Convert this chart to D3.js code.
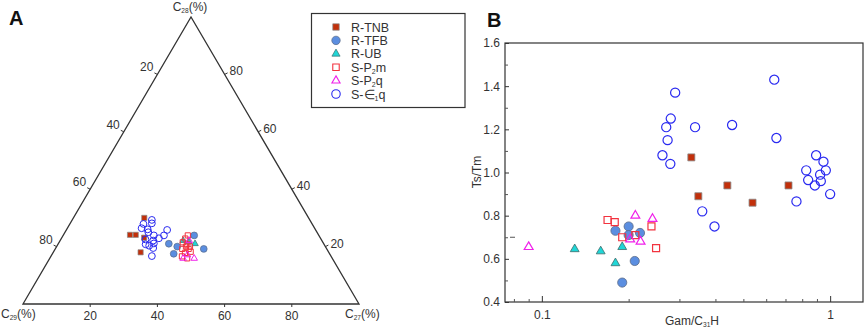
<!DOCTYPE html>
<html>
<head>
<meta charset="utf-8">
<script src="https://cdn.jsdelivr.net/npm/d3@7"></script>
<style>
  body { margin: 0; background: #fff; }
  svg { display: block; font-family: "Liberation Sans", Arial, sans-serif; }
</style>
</head>
<body>
<div id="chart"></div>
<script>
// ---- panel A : ternary data, [C27, C28, C29] (%)
const tnbA = [[21.1, 30.0, 48.9], [19.8, 24.1, 56.1], [21.5, 24.1, 54.4], [24.5, 23.1, 52.4], [26.0, 18.0, 56.0]];
const tfbA = [[32.9, 21.0, 46.1], [35.9, 20.0, 44.1], [36.1, 17.5, 46.4], [39.0, 23.9, 37.1], [44.2, 19.2, 36.6]];
const ubA = [[36.6, 22.1, 41.3], [40.7, 21.0, 38.3], [38.5, 21.7, 39.8]];
const p2mA = [[37.1, 23.9, 39.0], [36.9, 22.8, 40.3], [36.8, 21.5, 41.7], [38.5, 20.8, 40.7], [37.8, 19.2, 43.0],
  [39.7, 19.2, 41.1], [40.8, 18.2, 41.0], [39.3, 17.8, 42.9], [39.0, 16.6, 44.4], [40.9, 15.9, 43.2],
  [39.7, 20.0, 40.3], [38.5, 20.0, 41.5]];
const p2qA = [[43.0, 15.9, 41.1], [39.7, 15.9, 44.4], [40.4, 17.1, 42.5], [38.4, 22.1, 39.5]];
const e1qA = [[23.7, 29.3, 47.0], [21.9, 27.9, 50.2], [24.3, 28.1, 47.6], [22.1, 26.4, 51.5], [24.1, 26.0, 49.9],
  [27.0, 23.9, 49.1], [24.8, 25.0, 50.2], [30.0, 25.8, 44.2], [30.0, 23.9, 46.1], [29.0, 22.9, 48.1],
  [27.7, 22.1, 50.2], [26.1, 20.8, 53.1], [27.4, 20.3, 52.3], [29.0, 19.5, 51.5], [28.4, 21.1, 50.5],
  [30.0, 16.7, 53.3], [25.2, 22.5, 52.3]];

// ---- panel B : [Gam/C31H, Ts/Tm]
const tnbB = [[0.33, 1.07], [0.349, 0.89], [0.44, 0.94], [0.538, 0.86], [0.717, 0.94]];
const tfbB = [[0.18, 0.73], [0.2, 0.75], [0.2, 0.71], [0.219, 0.72], [0.21, 0.59], [0.19, 0.49]];
const ubB = [[0.13, 0.645], [0.16, 0.635], [0.19, 0.655], [0.18, 0.58]];
const p2mB = [[0.169, 0.78], [0.179, 0.77], [0.19, 0.70], [0.211, 0.71], [0.24, 0.75], [0.249, 0.65]];
const p2qB = [[0.09, 0.655], [0.211, 0.80], [0.242, 0.785], [0.2025, 0.69], [0.22, 0.68]];
const e1qB = [[0.29, 1.37], [0.28, 1.25], [0.27, 1.21], [0.273, 1.15], [0.262, 1.08], [0.279, 1.04],
  [0.34, 1.21], [0.457, 1.22], [0.64, 1.43], [0.651, 1.16], [0.36, 0.82], [0.397, 0.75],
  [0.764, 0.866], [0.894, 1.08], [0.948, 1.05], [0.826, 1.01], [0.966, 1.01], [0.923, 0.99],
  [0.839, 0.965], [0.928, 0.96], [0.885, 0.94], [1.0, 0.90]];

const ternTicks = [20, 40, 60, 80];
const yTicksB = [0.4, 0.6, 0.8, 1.0, 1.2, 1.4, 1.6];
const xTicksB = [0.1, 1];

// series look-up
const series = [
  { key: "tnb", label: ["R-TNB"], a: tnbA, b: tnbB, shape: d3.symbolSquare, fill: "#c2300b", stroke: "#8a8a8a" },
  { key: "tfb", label: ["R-TFB"], a: tfbA, b: tfbB, shape: d3.symbolCircle, fill: "#5b8ee0", stroke: "#5a6b88" },
  { key: "ub", label: ["R-UB"], a: ubA, b: ubB, shape: d3.symbolTriangle, fill: "#1fd6d6", stroke: "#3d6b6b" },
  { key: "p2m", label: ["S-P", "2", "m"], a: p2mA, b: p2mB, shape: d3.symbolSquare, fill: "none", stroke: "#f2333f" },
  { key: "p2q", label: ["S-P", "2", "q"], a: p2qA, b: p2qB, shape: d3.symbolTriangle, fill: "none", stroke: "#f020ea" },
  { key: "e1q", label: ["S-\u2208", "1", "q"], a: e1qA, b: e1qB, shape: d3.symbolCircle, fill: "none", stroke: "#2a2af0" }
];

function symSize(shape, scale) {
  if (shape === d3.symbolSquare) return 49 * scale;
  if (shape === d3.symbolCircle) return 66 * scale;
  return 34 * scale;
}

const W = 865, H = 328;
const svg = d3.select("#chart").append("svg").attr("width", W).attr("height", H);

const ink = "#333";

// ================= panel A =================
const gA = svg.append("g");
const tx = d3.scaleLinear().domain([0, 100]).range([23, 359]);
const ty = d3.scaleLinear().domain([0, 100]).range([304, 17]);
// position from C27 and C28
const tp = (c27, c28) => [tx(c27 + c28 / 2), ty(c28)];

const tri = [tp(0, 0), tp(0, 100), tp(100, 0)];
gA.append("path")
  .attr("d", "M" + tri.join("L") + "Z")
  .attr("fill", "none")
  .attr("stroke", ink)
  .attr("stroke-width", 1.3);

// bottom ticks (C27)
ternTicks.forEach((v) => {
  const [x, y] = tp(v, 0);
  gA.append("line").attr("x1", x).attr("x2", x).attr("y1", y).attr("y2", y + 3).attr("stroke", ink);
  gA.append("text").attr("x", x).attr("y", y + 16).attr("text-anchor", "middle")
    .attr("font-size", 12).attr("fill", ink).text(v);
});
// left ticks (C29): point where C29 = v, C28 = 100 - v
ternTicks.forEach((v) => {
  const [x, y] = tp(0, 100 - v);
  gA.append("line").attr("x1", x).attr("x2", x - 3).attr("y1", y).attr("y2", y - 1.5).attr("stroke", ink);
  gA.append("text").attr("x", x - 4).attr("y", y - 3).attr("text-anchor", "end")
    .attr("font-size", 12).attr("fill", ink).text(v);
});
// right ticks (C28)
ternTicks.forEach((v) => {
  const [x, y] = tp(100 - v, v);
  gA.append("line").attr("x1", x).attr("x2", x + 3).attr("y1", y).attr("y2", y - 1.5).attr("stroke", ink);
  gA.append("text").attr("x", x + 5).attr("y", y + 1).attr("text-anchor", "start")
    .attr("font-size", 12).attr("fill", ink).text(v);
});

function subLabel(g, x, y, anchor, parts, size) {
  const t = g.append("text").attr("x", x).attr("y", y).attr("text-anchor", anchor)
    .attr("font-size", size).attr("fill", ink);
  t.append("tspan").text(parts[0]);
  t.append("tspan").attr("font-size", size * 0.55).attr("dy", 2).text(parts[1]);
  t.append("tspan").attr("dy", -2).text(parts[2]);
  return t;
}
subLabel(gA, 190, 11, "middle", ["C", "28", "(%)"], 12);
subLabel(gA, 1, 318, "start", ["C", "29", "(%)"], 12);
subLabel(gA, 345, 318, "start", ["C", "27", "(%)"], 12);

gA.append("text").attr("x", 9).attr("y", 25).attr("font-size", 20).attr("font-weight", "bold")
  .attr("fill", "#111").text("A");

series.forEach((s) => {
  gA.append("g").selectAll("path")
    .data(s.a)
    .join("path")
    .attr("transform", (d) => `translate(${tp(d[0], d[1])})`)
    .attr("d", d3.symbol().type(s.shape).size(symSize(s.shape, 0.55)))
    .attr("fill", s.fill)
    .attr("stroke", s.stroke)
    .attr("stroke-width", s.fill === "none" ? 1 : 0.7);
});

// legend
const leg = svg.append("g");
leg.append("rect").attr("x", 311.5).attr("y", 13.5).attr("width", 153.5).attr("height", 94)
  .attr("fill", "#fff").attr("stroke", ink).attr("stroke-width", 1.2);
series.forEach((s, i) => {
  const y = 27 + i * 13.4;
  leg.append("path")
    .attr("transform", `translate(336,${y})`)
    .attr("d", d3.symbol().type(s.shape).size(symSize(s.shape, 0.85)))
    .attr("fill", s.fill)
    .attr("stroke", s.stroke)
    .attr("stroke-width", s.fill === "none" ? 1.1 : 0.7);
  const t = leg.append("text").attr("x", 351).attr("y", y + 4.5).attr("font-size", 12.5).attr("fill", ink);
  t.append("tspan").text(s.label[0]);
  if (s.label.length > 1) {
    t.append("tspan").attr("font-size", 7).attr("dy", 2).text(s.label[1]);
    t.append("tspan").attr("dy", -2).text(s.label[2]);
  }
});

// ================= panel B =================
const gB = svg.append("g");
const x = d3.scaleLog().domain([0.0745, 1.3]).range([505, 863]);
const y = d3.scaleLinear().domain([0.4, 1.6]).range([302, 43]);

gB.append("rect").attr("x", 505).attr("y", 43).attr("width", 358).attr("height", 259)
  .attr("fill", "none").attr("stroke", ink).attr("stroke-width", 1.2);

// y axis: major labelled ticks + minor ticks, inward
gB.append("g")
  .attr("transform", "translate(505,0)")
  .call(d3.axisLeft(y).tickValues(yTicksB).tickSize(-4).tickPadding(5).tickFormat(d3.format(".1f")))
  .call((g) => g.select(".domain").remove())
  .call((g) => g.selectAll("text").attr("font-size", 12).attr("fill", ink).attr("font-family", "Liberation Sans, Arial"))
  .call((g) => g.selectAll("line").attr("stroke", ink));
gB.append("g")
  .attr("transform", "translate(505,0)")
  .call(d3.axisLeft(y).tickValues(d3.range(0.5, 1.6, 0.2)).tickSize(-3).tickFormat(""))
  .call((g) => g.select(".domain").remove())
  .call((g) => g.selectAll("line").attr("stroke", "#555"));
// stray dash at 0.7
gB.append("line").attr("x1", 510).attr("x2", 515).attr("y1", y(0.7)).attr("y2", y(0.7)).attr("stroke", "#555");

// x axis (log), inward ticks
const minorX = [0.08, 0.09, 0.2, 0.3, 0.4, 0.5, 0.6, 0.7, 0.8, 0.9];
gB.append("g")
  .attr("transform", "translate(0,302)")
  .call(d3.axisBottom(x).tickValues(xTicksB).tickSize(-6).tickPadding(8).tickFormat(d3.format("")))
  .call((g) => g.select(".domain").remove())
  .call((g) => g.selectAll("text").attr("font-size", 12).attr("fill", ink).attr("font-family", "Liberation Sans, Arial"))
  .call((g) => g.selectAll("line").attr("stroke", ink));
gB.append("g")
  .attr("transform", "translate(0,302)")
  .call(d3.axisBottom(x).tickValues(minorX).tickSize(-3).tickFormat(""))
  .call((g) => g.select(".domain").remove())
  .call((g) => g.selectAll("line").attr("stroke", "#555"));

// axis titles
gB.append("text").attr("transform", "translate(481,172) rotate(-90)").attr("text-anchor", "middle")
  .attr("font-size", 12).attr("fill", ink).text("Ts/Tm");
subLabel(gB, 692, 325, "middle", ["Gam/C", "31", "H"], 12);

gB.append("text").attr("x", 487).attr("y", 27).attr("font-size", 20).attr("font-weight", "bold")
  .attr("fill", "#111").text("B");

series.forEach((s) => {
  gB.append("g").selectAll("path")
    .data(s.b)
    .join("path")
    .attr("transform", (d) => `translate(${x(d[0])},${y(d[1])})`)
    .attr("d", d3.symbol().type(s.shape).size(symSize(s.shape, 1)))
    .attr("fill", s.fill)
    .attr("stroke", s.stroke)
    .attr("stroke-width", s.fill === "none" ? 1.2 : 0.8);
});
</script>
</body>
</html>
